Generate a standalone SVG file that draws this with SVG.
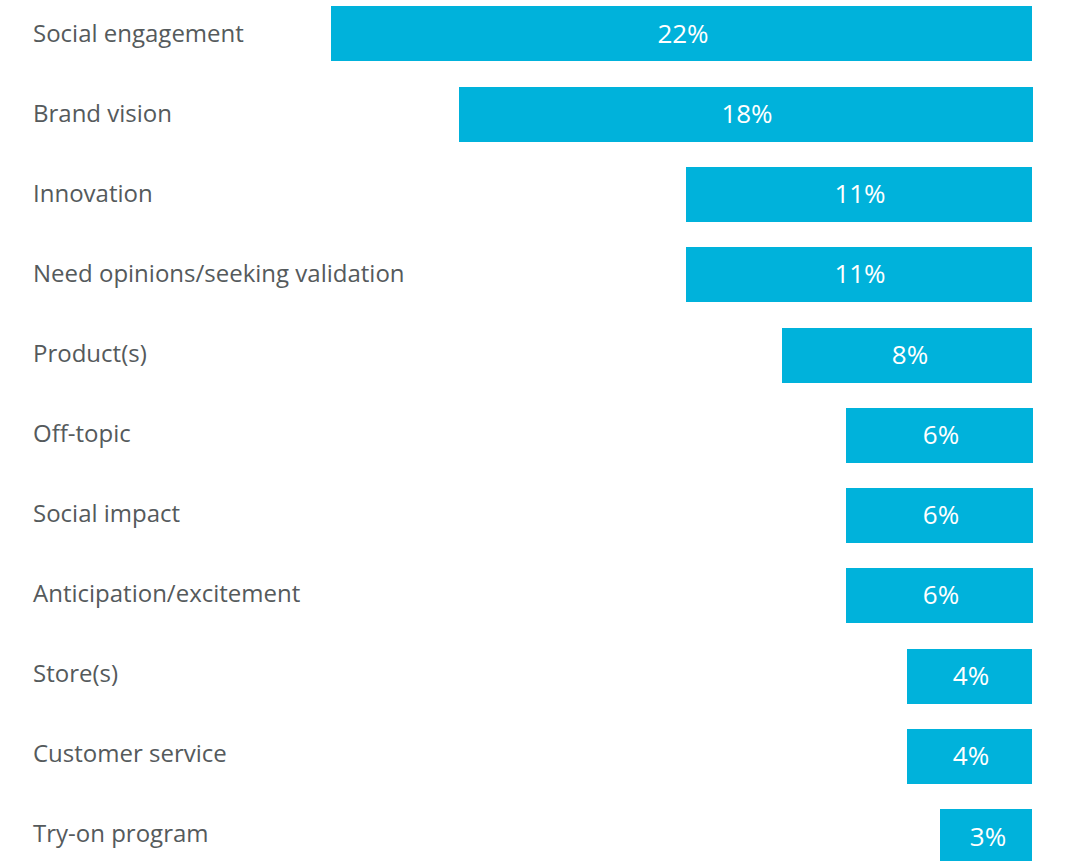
<svg xmlns="http://www.w3.org/2000/svg" width="1072" height="861" viewBox="0 0 1072 861">
<style>
.lbl{font-family:"Open Sans","Liberation Sans",sans-serif;font-size:24px;fill:#555a5c}
.bar{fill:#00b2db}
.val{font-family:"Open Sans","Liberation Sans",sans-serif;font-size:26px;fill:#ffffff;text-anchor:middle}
</style>
<rect width="1072" height="861" fill="#ffffff"/>
<g id="row1"><text class="lbl" x="33" y="42">Social engagement</text><rect class="bar" x="331" y="6" width="701" height="55"/><text class="val" x="683" y="43">22%</text></g>
<g id="row2"><text class="lbl" x="33" y="122">Brand vision</text><rect class="bar" x="459" y="87" width="574" height="55"/><text class="val" x="747" y="123">18%</text></g>
<g id="row3"><text class="lbl" x="33" y="202">Innovation</text><rect class="bar" x="686" y="167" width="346" height="55"/><text class="val" x="860" y="203">11%</text></g>
<g id="row4"><text class="lbl" x="33" y="282">Need opinions/seeking validation</text><rect class="bar" x="686" y="247" width="346" height="55"/><text class="val" x="860" y="283">11%</text></g>
<g id="row5"><text class="lbl" x="33" y="362">Product(s)</text><rect class="bar" x="782" y="328" width="250" height="55"/><text class="val" x="910" y="364">8%</text></g>
<g id="row6"><text class="lbl" x="33" y="442">Off-topic</text><rect class="bar" x="846" y="408" width="187" height="55"/><text class="val" x="941" y="444">6%</text></g>
<g id="row7"><text class="lbl" x="33" y="522">Social impact</text><rect class="bar" x="846" y="488" width="187" height="55"/><text class="val" x="941" y="524">6%</text></g>
<g id="row8"><text class="lbl" x="33" y="602">Anticipation/excitement</text><rect class="bar" x="846" y="568" width="187" height="55"/><text class="val" x="941" y="604">6%</text></g>
<g id="row9"><text class="lbl" x="33" y="682">Store(s)</text><rect class="bar" x="907" y="649" width="125" height="55"/><text class="val" x="971" y="685">4%</text></g>
<g id="row10"><text class="lbl" x="33" y="762">Customer service</text><rect class="bar" x="907" y="729" width="125" height="55"/><text class="val" x="971" y="765">4%</text></g>
<g id="row11"><text class="lbl" x="33" y="842">Try-on program</text><rect class="bar" x="940" y="809" width="92" height="52"/><text class="val" x="988" y="846">3%</text></g>
</svg>
